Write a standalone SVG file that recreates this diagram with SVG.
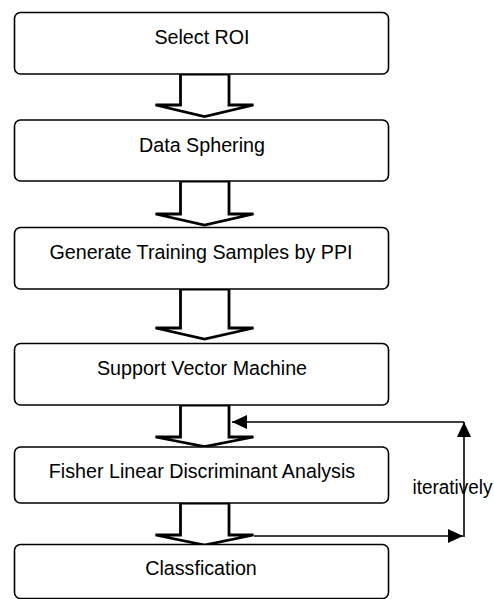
<svg xmlns="http://www.w3.org/2000/svg" width="494" height="599" viewBox="0 0 494 599">
<style>
.box{fill:#fff;stroke:#000;stroke-width:1.6}
.lbl{font-family:"Liberation Sans",Arial,sans-serif;font-size:19.7px;fill:#000;text-anchor:middle}
.blk{fill:#fff;stroke:#000;stroke-width:2.8;stroke-linejoin:miter}
.ln{fill:none;stroke:#000;stroke-width:1.6}
</style>
<defs>
<marker id="ah" markerUnits="userSpaceOnUse" markerWidth="16" markerHeight="14" refX="15" refY="7" orient="auto">
<path d="M0,0 L15,7 L0,14 Z" fill="#000"/>
</marker>
</defs>
<rect width="494" height="599" fill="#fff"/>
<g id="connectors">
<polygon class="blk" points="180.5,74 229,74 229,105 253.5,105 204.5,116.5 155.5,105 180.5,105"/>
<polygon class="blk" points="180.5,181 229,181 229,214 253.5,214 204.5,225 155.5,214 180.5,214"/>
<polygon class="blk" points="180.5,289 229,289 229,328 253.5,328 204.5,339 155.5,328 180.5,328"/>
<polygon class="blk" points="180.5,405 229,405 229,437 253.5,437 204.5,446.5 155.5,437 180.5,437"/>
<polygon class="blk" points="180.5,503 229,503 229,535 253.5,535 204.5,545 155.5,535 180.5,535"/>
<line class="ln" x1="254" y1="536" x2="463" y2="536" marker-end="url(#ah)"/>
<line class="ln" x1="464" y1="537" x2="464" y2="422" marker-end="url(#ah)"/>
<line class="ln" x1="464" y1="422" x2="232" y2="422" marker-end="url(#ah)"/>
</g>
<g id="n1"><rect class="box" x="14.5" y="12.5" width="374" height="61.5" rx="6"/><text class="lbl" x="202" y="44">Select ROI</text></g>
<g id="n2"><rect class="box" x="14.5" y="120" width="374" height="61" rx="6"/><text class="lbl" x="202" y="151.5">Data Sphering</text></g>
<g id="n3"><rect class="box" x="14.5" y="227.5" width="374" height="61.5" rx="6"/><text class="lbl" x="201" y="259">Generate Training Samples by PPI</text></g>
<g id="n4"><rect class="box" x="14.5" y="343.5" width="374" height="61.5" rx="6"/><text class="lbl" x="202" y="375">Support Vector Machine</text></g>
<g id="n5"><rect class="box" x="14.5" y="447" width="374" height="56" rx="6"/><text class="lbl" x="202" y="478">Fisher Linear Discriminant Analysis</text></g>
<g id="n6"><rect class="box" x="14.5" y="544.5" width="374" height="54" rx="6"/><text class="lbl" x="201" y="575">Classfication</text></g>
<text x="412.5" y="493.5" textLength="80" lengthAdjust="spacingAndGlyphs" style="font-family:'Liberation Sans',Arial,sans-serif;font-size:19.5px;fill:#000">iteratively</text>
</svg>
